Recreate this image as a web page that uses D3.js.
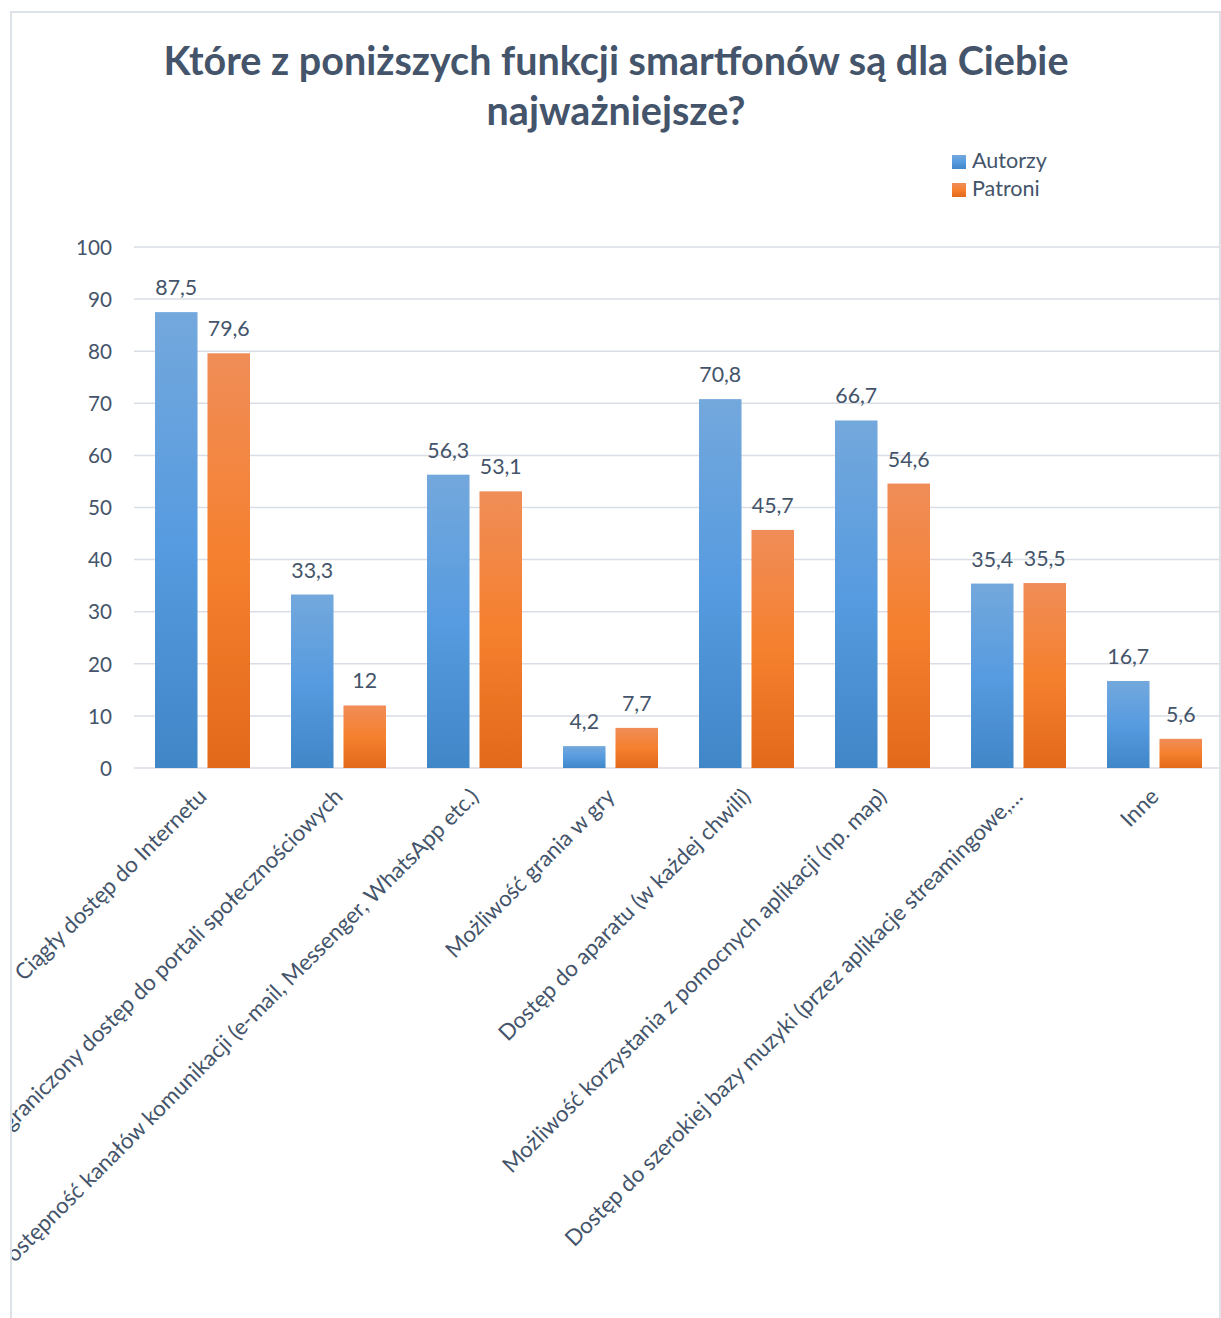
<!DOCTYPE html>
<html><head><meta charset="utf-8">
<script src="https://cdn.jsdelivr.net/npm/d3@7"></script>
<style>
html,body{margin:0;padding:0;background:#fff;}
svg{display:block;}
text{font-family:Lato,"Open Sans",sans-serif;fill:#44546a;}
</style></head>
<body>
<svg id="chart" width="1221" height="1318"></svg>
<script>
const titleLines = ["Które z poniższych funkcji smartfonów są dla Ciebie", "najważniejsze?"];
const categories = [
  "Ciągły dostęp do Internetu",
  "Nieograniczony dostęp do portali społecznościowych",
  "Dostępność kanałów komunikacji (e-mail, Messenger, WhatsApp etc.)",
  "Możliwość grania w gry",
  "Dostęp do aparatu (w każdej chwili)",
  "Możliwość korzystania z pomocnych aplikacji (np. map)",
  "Dostęp do szerokiej bazy muzyki (przez aplikacje streamingowe,…",
  "Inne"
];
const seriesNames = ["Autorzy", "Patroni"];
const autorzy = [87.5, 33.3, 56.3, 4.2, 70.8, 66.7, 35.4, 16.7];
const patroni = [79.6, 12, 53.1, 7.7, 45.7, 54.6, 35.5, 5.6];
const yTicks = [0, 10, 20, 30, 40, 50, 60, 70, 80, 90, 100];

const W = 1221, H = 1318;
const svg = d3.select("#chart");
const defs = svg.append("defs");

function grad(id, stops) {
  const g = defs.append("linearGradient").attr("id", id)
    .attr("x1", 0).attr("y1", 0).attr("x2", 0).attr("y2", 1);
  stops.forEach(([o, c]) => g.append("stop").attr("offset", o).attr("stop-color", c));
}
grad("gBlue", [[0, "#73a8dc"], [0.5, "#579be0"], [1, "#4186c7"]]);
grad("gOrange", [[0, "#f08d58"], [0.5, "#f5802e"], [1, "#e2691a"]]);
const fills = ["url(#gBlue)", "url(#gOrange)"];

defs.append("clipPath").attr("id", "frameClip")
  .append("rect").attr("x", 12).attr("y", 12).attr("width", 1208).attr("height", H);

// fit helper: font size so that sample text has target width
function fitSize(sample, target, weight) {
  const t = svg.append("text").attr("font-size", 100).attr("font-weight", weight || 400).text(sample);
  const w = t.node().getComputedTextLength();
  t.remove();
  return 100 * target / w;
}

// frame
svg.append("path")
  .attr("d", `M11,${H} L11,12 L1220,12 L1220,${H}`)
  .attr("fill", "none").attr("stroke", "#dde1e8").attr("stroke-width", 2);

const margin = {left: 134, right: 1222, top: 247, bottom: 768};
const x0 = d3.scaleBand().domain(categories).range([margin.left, margin.right]).paddingInner(0).paddingOuter(0);
const x1 = d3.scaleBand().domain(seriesNames).range([21, 116]).paddingInner(0.19);
const y = d3.scaleLinear().domain([0, 100]).range([margin.bottom, margin.top]);

// title
const titleSize = fitSize(titleLines[0], 905, 700);
svg.append("g").selectAll("text").data(titleLines).join("text")
  .attr("x", 616).attr("y", (d, i) => 75 + i * 50)
  .attr("text-anchor", "middle").attr("font-weight", 700)
  .attr("font-size", titleSize).text(d => d);

// gridlines
svg.append("g").selectAll("line").data(yTicks).join("line")
  .attr("x1", margin.left).attr("x2", 1220)
  .attr("y1", d => y(d)).attr("y2", d => y(d))
  .attr("stroke", "#d9dde5").attr("stroke-width", 1.5);

// y axis labels
const tickSize = fitSize("100", 36);
const yAxis = d3.axisLeft(y).tickValues(yTicks).tickSize(0).tickPadding(0).tickFormat(d3.format("d"));
const ya = svg.append("g").attr("transform", "translate(112,0)").call(yAxis);
ya.select(".domain").remove();
ya.selectAll("text").attr("font-size", tickSize).attr("font-family", "Lato").attr("fill", "#44546a").attr("dy", "0.35em");

// bars
const data = categories.map((c, i) => ({c, vals: [autorzy[i], patroni[i]]}));
const valSize = fitSize("87,5", 42);
const fmt = v => String(v).replace(".", ",");
const groups = svg.append("g").selectAll("g").data(data).join("g")
  .attr("transform", d => `translate(${x0(d.c)},0)`);
groups.selectAll("rect").data(d => d.vals.map((v, k) => ({k, v}))).join("rect")
  .attr("x", d => x1(seriesNames[d.k]))
  .attr("width", x1.bandwidth())
  .attr("y", d => y(d.v))
  .attr("height", d => y(0) - y(d.v))
  .attr("fill", d => fills[d.k]);
groups.selectAll("text.val").data(d => d.vals.map((v, k) => ({k, v}))).join("text")
  .attr("class", "val")
  .attr("x", d => x1(seriesNames[d.k]) + x1.bandwidth() / 2)
  .attr("y", d => y(d.v) - 17)
  .attr("text-anchor", "middle").attr("font-size", valSize)
  .text(d => fmt(d.v));

// category labels
const catSize = fitSize("Możliwość grania w gry", 228);
const cl = svg.append("g").attr("clip-path", "url(#frameClip)");
cl.selectAll("text").data(categories).join("text")
  .attr("transform", d => `translate(${x0(d) + x0.bandwidth() / 2 + 6},798) rotate(-45)`)
  .attr("text-anchor", "end").attr("font-size", catSize)
  .text(d => d);

// legend
const legSize = fitSize("Autorzy", 75);
const leg = svg.append("g").selectAll("g").data(seriesNames).join("g")
  .attr("transform", (d, i) => `translate(952,${155 + i * 28})`);
leg.append("rect").attr("width", 14).attr("height", 14).attr("fill", (d, i) => fills[i]);
leg.append("text").attr("x", 20).attr("y", 13).attr("font-size", legSize).text(d => d);
</script>
</body></html>
